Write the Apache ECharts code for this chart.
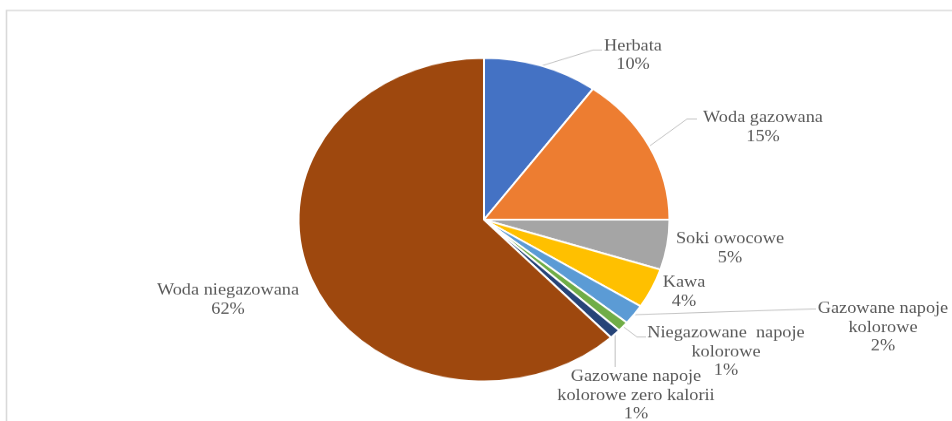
<!DOCTYPE html>
<html>
<head>
<meta charset="utf-8">
<script src="https://cdn.jsdelivr.net/npm/echarts@6/dist/echarts.min.js"></script>
<style>
  html, body { margin: 0; padding: 0; background: #ffffff; overflow: hidden; }
  #wrap { width: 952px; height: 421px; overflow: hidden; position: relative; }
  /* the chart is drawn on a taller canvas and flattened vertically */
  #chart { width: 952px; height: 483px; transform: scaleY(0.8716); transform-origin: 0 0; }
</style>
</head>
<body>
<div id="wrap"><div id="chart"></div></div>
<script>
// Struktura spożycia napojów
const categories = [
  'Herbata',
  'Woda gazowana',
  'Soki owocowe',
  'Kawa',
  'Gazowane napoje\nkolorowe',
  'Niegazowane  napoje\nkolorowe',
  'Gazowane napoje\nkolorowe zero kalorii',
  'Woda niegazowana'
];
const shares = [10, 15, 5, 4, 2, 1, 1, 62];
const colors = ['#4472C4', '#ED7D31', '#A5A5A5', '#FFC000', '#5B9BD5', '#70AD47', '#264478', '#9E480E'];

// label anchors (chart pixels) and leader-line bends
const labelAt = [
  { x: 633, y: 63.5, line: [[593, 57.4], [602, 57.4]] },
  { x: 763, y: 146.3, line: [[687, 136.5], [697, 136.5]] },
  { x: 730, y: 285.1 },
  { x: 684, y: 335 },
  { x: 883, y: 375.7, line: [[812, 354.5], [816, 354.5]] },
  { x: 726, y: 403.9, line: [[637, 386.6], [646, 386.6]] },
  { x: 636, y: 453.8, drop: 421 },
  { x: 228, y: 344.2 }
];

const chart = echarts.init(document.getElementById('chart'), null, { renderer: 'canvas' });

const data = categories.map((name, i) => ({
  name: name,
  value: shares[i],
  itemStyle: { color: colors[i] },
  labelLine: { show: !!(labelAt[i].line || labelAt[i].drop) }
}));

chart.setOption({
  animation: false,
  backgroundColor: '#ffffff',
  graphic: [{
    type: 'rect',
    shape: { x: 6.5, y: 12, width: 1200, height: 1200 },
    style: { fill: 'none', stroke: '#d9d9d9', lineWidth: 1.6 },
    silent: true
  }],
  series: [{
    type: 'pie',
    center: [484, 252],
    radius: 185.5,
    startAngle: 90,
    clockwise: true,
    avoidLabelOverlap: false,
    data: data,
    itemStyle: { borderColor: '#ffffff', borderWidth: 2 },
    label: {
      show: true,
      position: 'outside',
      formatter: '{b}\n{c}%',
      color: '#595959',
      fontFamily: 'Liberation Serif',
      fontSize: 18.3,
      lineHeight: 21.5,
      align: 'center'
    },
    labelLine: {
      show: true,
      length: 10,
      length2: 10,
      lineStyle: { color: '#bfbfbf', width: 1 }
    },
    labelLayout: function (params) {
      const spec = labelAt[params.dataIndex];
      const out = { x: spec.x, y: spec.y, align: 'center', verticalAlign: 'middle' };
      const pts = params.labelLinePoints;
      if (pts && pts.length) {
        const start = pts[0];
        if (spec.line) {
          out.labelLinePoints = [start, spec.line[0], spec.line[1]];
        } else if (spec.drop) {
          out.labelLinePoints = [start, [start[0], (start[1] + spec.drop) / 2], [start[0], spec.drop]];
        }
      }
      return out;
    }
  }]
});
</script>
</body>
</html>
